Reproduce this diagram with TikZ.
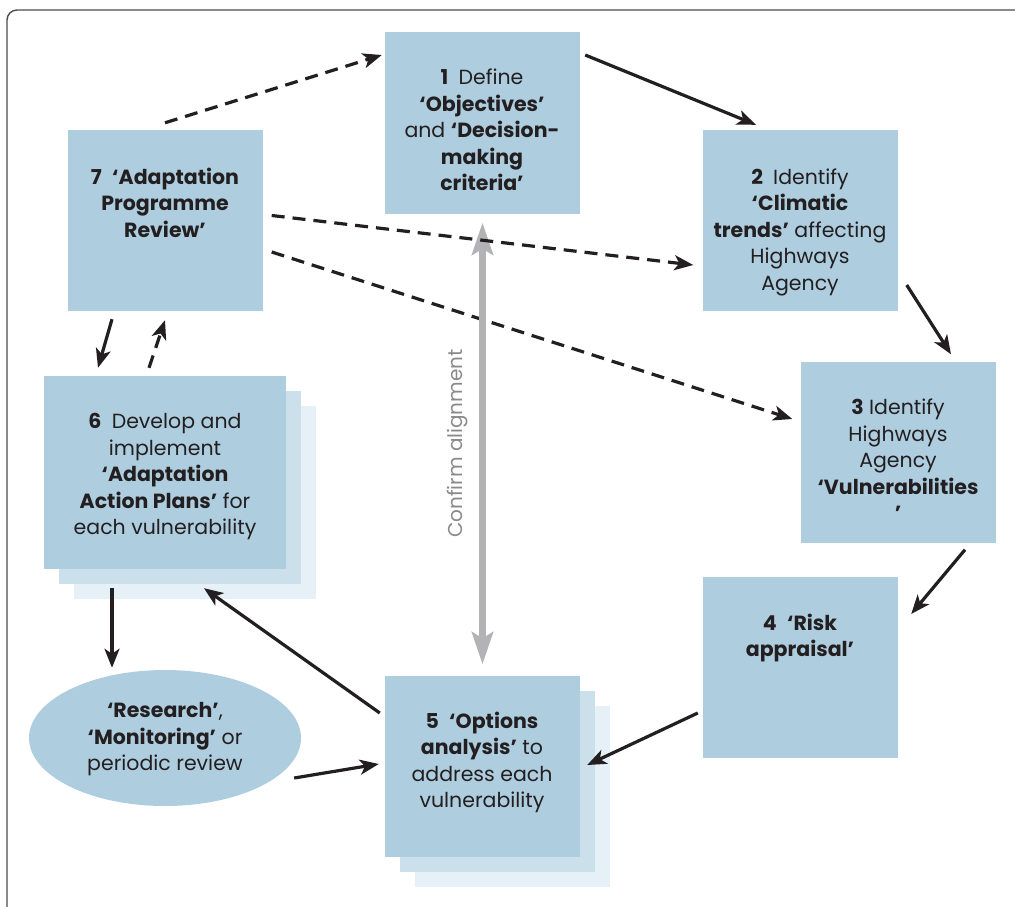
\documentclass[tikz,border=0pt]{standalone}
\usepackage{fontspec}
\setmainfont{Poppins}
\usepackage{tikz}
\usetikzlibrary{arrows.meta, shapes.geometric, positioning}

\definecolor{boxblue}{HTML}{AECEE0}
\definecolor{shadeone}{HTML}{CCE0EC}
\definecolor{shadetwo}{HTML}{E6F0F7}
\definecolor{inkdark}{HTML}{231F20}
\definecolor{linegray}{HTML}{B3B3B6}
\definecolor{labelgray}{HTML}{8A8A8C}

\begin{document}
\begin{tikzpicture}[x=1pt, y=-1pt,
    stagebox/.style={rectangle, fill=boxblue, minimum width=195pt, minimum height=181pt, inner sep=0pt},
    txt/.style={align=center, text=inkdark, inner sep=0pt, font=\fontsize{20.5}{26.5}\selectfont},
    flow/.style={draw=inkdark, line width=3.2pt, -{Stealth[length=19pt, width=15pt, inset=5pt]}},
    review/.style={flow, dash pattern=on 13pt off 8pt}]
      \useasboundingbox (0,0) rectangle (1015,907);
      \clip (0,0) rectangle (1015,907);
      % Frame
      \draw[gray!60!black, line width=1.4pt, rounded corners=10pt] (7,10) rectangle (1040,940);

      % Stages
      \node[stagebox] (b1) at (482.5,123) {};
      \node[stagebox] (b7) at (165,220.5) {};
      \node[stagebox] (b2) at (800,220.5) {};
      \node[stagebox] (b3) at (898,452) {};
      \node[stagebox] (b4) at (800.5,667) {};
      \node[stagebox, fill=shadetwo] (b5c) at (512.5,796) {};
      \node[stagebox, fill=shadeone] (b5b) at (497.5,781) {};
      \node[stagebox] (b5) at (482.5,766) {};
      \node[stagebox, fill=shadetwo, minimum width=242pt, minimum height=193pt] (b6c) at (195,502.5) {};
      \node[stagebox, fill=shadeone, minimum width=242pt, minimum height=193pt] (b6b) at (180,487.5) {};
      \node[stagebox, minimum width=242pt, minimum height=193pt] (b6) at (165,472.5) {};
      \node[ellipse, fill=boxblue, minimum width=272pt, minimum height=136pt, inner sep=0pt] (ell) at (165,738) {};

      % Texts
      \node[txt] (t1) at (482,130) {\textbf{1}\enspace Define\\\textbf{`Objectives'}\\and \textbf{`Decision-}\\\textbf{making}\\\textbf{criteria'}};
      \node[txt] (t7) at (165,202.5) {\textbf{7\enspace`Adaptation}\\\textbf{Programme}\\\textbf{Review'}};
      \node[txt] (t2) at (800,232) {\textbf{2}\enspace Identify\\\textbf{`Climatic}\\\textbf{trends'} affecting\\Highways\\Agency};
      \node[txt] (t3) at (898,460) {\textbf{3} Identify\\Highways\\Agency\\\textbf{`Vulnerabilities}\\\textbf{'}};
      \node[txt] (t4) at (800,638) {\textbf{4\enspace`Risk}\\\textbf{appraisal'}};
      \node[txt] (t5) at (482,762.5) {\textbf{5\enspace`Options}\\\textbf{analysis'} to\\address each\\vulnerability};
      \node[txt] (t6) at (165,477) {\textbf{6}\enspace Develop and\\implement\\\textbf{`Adaptation}\\\textbf{Action Plans'} for\\each vulnerability};
      \node[txt] (te) at (165,739.5) {\textbf{`Research'},\\\textbf{`Monitoring'} or\\periodic review};

      % Cycle
      \draw[flow] ([shift={(5,-68)}]b1.east) -- ([shift={(-44,-5)}]b2.north);
      \draw[flow] ([shift={(9,64.5)}]b2.east) -- ([shift={(53,-7)}]b3.north);
      \draw[flow] ([shift={(67,7)}]b3.south) -- ([shift={(13,-53)}]b4.east);
      \draw[flow] ([shift={(-5,46)}]b4.west) -- ([shift={(7,-1)}]b5.east);
      \draw[flow] ([shift={(-5,-53)}]b5.west) -- ([shift={(39,19)}]b6.south);
      \draw[flow] ([shift={(-7,40)}]ell.east) -- ([shift={(-6,-2)}]b5.west);
      \draw[flow] ([shift={(-53,19)}]b6.south) -- ([shift={(-53,-2)}]ell.north);
      \draw[flow] ([shift={(-53,8)}]b7.south) -- ([shift={(-67,-8)}]b6.north);
      \draw[review] ([shift={(-16,-8)}]b6.north) -- ([shift={(0,9)}]b7.south);
      \draw[review] ([shift={(0,-7)}]b7.north) -- ([shift={(-3,-68)}]b1.west);
      \draw[review] ([shift={(9,31.5)}]b7.east) -- ([shift={(-8,-33)}]b3.west);

      % Confirm alignment
      \draw[linegray, line width=6.5pt, {Stealth[length=32pt, width=21pt, inset=6pt]}-{Stealth[length=32pt, width=21pt, inset=6pt]}]
        ([yshift=-9pt]b1.south) -- node[pos=0.5, xshift=-25pt, rotate=90, text=labelgray, font=\fontsize{20}{22}\selectfont] (lbl) {Confirm alignment} ([yshift=11pt]b5.north);
      \draw[review] ([shift={(9,-5)}]b7.east) -- ([shift={(-9,44.5)}]b2.west);
\end{tikzpicture}
\end{document}
